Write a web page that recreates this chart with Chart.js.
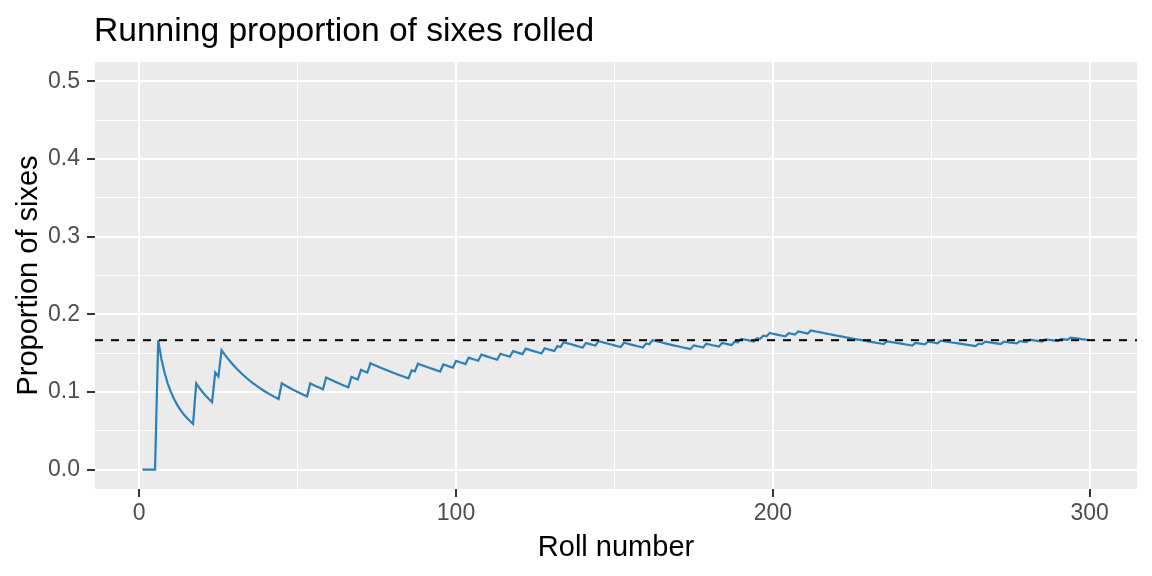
<!DOCTYPE html>
<html>
<head>
<meta charset="utf-8">
<script src="https://cdn.jsdelivr.net/npm/chart.js@4/dist/chart.umd.min.js"></script>
<style>
  html, body { margin: 0; padding: 0; background: #ffffff; }
  #wrap { width: 1152px; height: 576px; }
</style>
</head>
<body>
<div id="wrap"><canvas id="c" width="1152" height="576"></canvas></div>
<script>
// ---- Data ----
const chartTitle = "Running proportion of sixes rolled";
const xAxisTitle = "Roll number";
const yAxisTitle = "Proportion of sixes";
const totalRolls = 300;
// Roll numbers on which a six came up (each upward step of the line)
const sixRolls = [6, 18, 24, 26, 45, 54, 59, 67, 70, 73, 86, 88, 96, 100, 104, 108,
  114, 118, 122, 128, 132, 134, 141, 145, 153, 160, 162, 175, 179, 184, 188, 190,
  195, 197, 199, 205, 208, 212, 236, 245, 249, 253, 265, 267, 273, 278, 281, 286,
  291, 294];
const expectedProportion = 1 / 6;
const xMajorTicks = [0, 100, 200, 300];
const xMinorTicks = [50, 150, 250];
const yMajorTicks = [0, 0.1, 0.2, 0.3, 0.4, 0.5];
const yMinorTicks = [0.05, 0.15, 0.25, 0.35, 0.45];
const xLimits = [-13.95, 314.95];
const yLimits = [-0.025, 0.525];

// ---- Build running proportion table from the rolls ----
const sixSet = new Set(sixRolls);
const runningPoints = [];
let sixCount = 0;
for (let n = 1; n <= totalRolls; n++) {
  if (sixSet.has(n)) sixCount++;
  runningPoints.push({ x: n, y: sixCount / n });
}
const hlinePoints = [{ x: xLimits[0], y: expectedProportion }, { x: xLimits[1], y: expectedProportion }];

const FONT = "'Liberation Sans', Arial, sans-serif";

const isMajor = (arr, v) => arr.some(m => Math.abs(m - v) < 1e-9);

const panelBg = {
  id: 'panelBg',
  beforeDraw(chart) {
    const { ctx, chartArea: a } = chart;
    ctx.save();
    ctx.fillStyle = '#EBEBEB';
    ctx.fillRect(a.left, a.top, a.right - a.left, a.bottom - a.top);
    ctx.restore();
  }
};

const texts = {
  id: 'texts',
  afterDraw(chart) {
    const { ctx, chartArea: a } = chart;
    ctx.save();
    ctx.fillStyle = '#000000';
    ctx.font = `33.6px ${FONT}`;
    ctx.textAlign = 'left';
    ctx.textBaseline = 'alphabetic';
    ctx.fillText(chartTitle, 94, 40.5);
    ctx.font = `29px ${FONT}`;
    ctx.textAlign = 'center';
    ctx.fillText(xAxisTitle, (a.left + a.right) / 2, 556);
    ctx.translate(36.5, (a.top + a.bottom) / 2);
    ctx.rotate(-Math.PI / 2);
    ctx.fillText(yAxisTitle, 0, 0);
    ctx.restore();
  }
};

new Chart(document.getElementById('c'), {
  type: 'line',
  data: {
    datasets: [
      {
        data: hlinePoints,
        borderColor: '#000000',
        borderWidth: 2,
        borderDash: [8, 8],
        pointRadius: 0,
        fill: false,
        order: 0
      },
      {
        data: runningPoints,
        borderColor: '#2C7FB8',
        borderWidth: 2.2,
        pointRadius: 0,
        tension: 0,
        fill: false,
        order: 1
      }
    ]
  },
  options: {
    responsive: false,
    animation: false,
    devicePixelRatio: 1,
    parsing: false,
    layout: { padding: { top: 62, right: 15, bottom: 0, left: 0 } },
    plugins: { legend: { display: false }, title: { display: false }, tooltip: { enabled: false } },
    scales: {
      x: {
        type: 'linear',
        min: xLimits[0],
        max: xLimits[1],
        afterBuildTicks(scale) {
          scale.ticks = [...xMajorTicks, ...xMinorTicks].sort((a, b) => a - b).map(v => ({ value: v }));
        },
        afterFit(scale) { scale.height = 87; },
        border: { display: false },
        grid: {
          color: '#FFFFFF',
          lineWidth: ctx => isMajor(xMajorTicks, ctx.tick.value) ? 2 : 1,
          drawTicks: true,
          tickLength: 8,
          tickWidth: 2,
          tickColor: ctx => isMajor(xMajorTicks, ctx.tick.value) ? '#333333' : 'rgba(0,0,0,0)'
        },
        ticks: {
          autoSkip: false,
          maxRotation: 0,
          padding: 3,
          color: '#4D4D4D',
          font: { family: FONT, size: 23 },
          callback: v => isMajor(xMajorTicks, v) ? String(v) : ''
        }
      },
      y: {
        type: 'linear',
        min: yLimits[0],
        max: yLimits[1],
        afterBuildTicks(scale) {
          scale.ticks = [...yMajorTicks, ...yMinorTicks].sort((a, b) => a - b).map(v => ({ value: v }));
        },
        afterFit(scale) { scale.width = 95; },
        border: { display: false },
        grid: {
          color: '#FFFFFF',
          lineWidth: ctx => isMajor(yMajorTicks, ctx.tick.value) ? 2 : 1,
          drawTicks: true,
          tickLength: 8,
          tickWidth: 2,
          tickColor: ctx => isMajor(yMajorTicks, ctx.tick.value) ? '#333333' : 'rgba(0,0,0,0)'
        },
        ticks: {
          autoSkip: false,
          padding: 7,
          color: '#4D4D4D',
          font: { family: FONT, size: 23 },
          callback: v => isMajor(yMajorTicks, v) ? v.toFixed(1) : ''
        }
      }
    }
  },
  plugins: [panelBg, texts]
});
</script>
</body>
</html>
